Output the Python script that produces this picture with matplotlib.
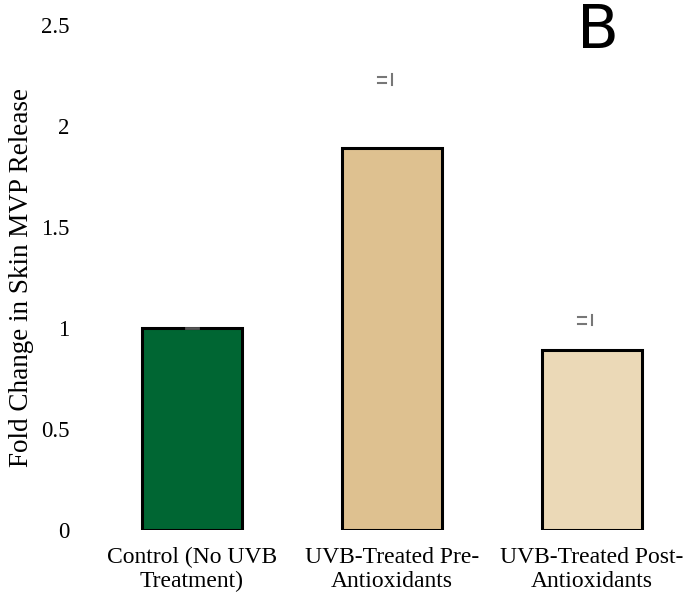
import numpy as np
import matplotlib.pyplot as plt

categories = ['Control (No UVB\nTreatment)', 'UVB-Treated Pre-\nAntioxidants', 'UVB-Treated Post-\nAntioxidants']
values = [1.0, 1.89, 0.89]
colors = ['#006633', '#DEC190', '#EBD9B7']
# stray error-bar fragments drawn above bars (value where they sit)
err_marks = [None, 2.23, 1.04]
yticks = [0, 0.5, 1, 1.5, 2, 2.5]
ytick_labels = ['0', '0.5', '1', '1.5', '2', '2.5']

plt.rcParams['font.family'] = ['Liberation Serif', 'DejaVu Serif']

fig = plt.figure(figsize=(6.87, 5.96), dpi=100)
ax = fig.add_axes([92/687, 1 - 530/596, 595/687, 505/596])

x = np.arange(len(categories))
ax.bar(x, values, width=0.5, color=colors, edgecolor='black', linewidth=2.2, zorder=2)

# tiny error bar on control
ax.plot([x[0] - 0.03, x[0] + 0.03], [values[0], values[0]], color='#555555', lw=2, zorder=3)

for xi, m in zip(x, err_marks):
    if m is None:
        continue
    ax.plot([xi, xi], [m - 0.025, m + 0.025], color='#777777', lw=1.5)
    ax.plot([xi - 0.07, xi - 0.03], [m + 0.012, m + 0.012], color='#777777', lw=1.5)
    ax.plot([xi - 0.07, xi - 0.03], [m - 0.018, m - 0.018], color='#777777', lw=1.5)

ax.set_xlim(-0.5, 2.475)
ax.set_ylim(0, 2.5)
ax.set_yticks(yticks)
ax.set_yticklabels(ytick_labels, fontsize=16.5)
ax.set_xticks(x)
ax.set_xticklabels(categories, fontsize=17, linespacing=1.2)
ax.tick_params(axis='both', length=0)
ax.tick_params(axis='y', pad=16)
ax.tick_params(axis='x', pad=12)
for s in ax.spines.values():
    s.set_visible(False)

ax.set_ylabel('Fold Change in Skin MVP Release', fontsize=19.5, labelpad=5)

fig.text(598/687, 0.997, 'B', fontsize=44, family='DejaVu Sans', ha='center', va='top')

plt.savefig('out.png', dpi=100)
